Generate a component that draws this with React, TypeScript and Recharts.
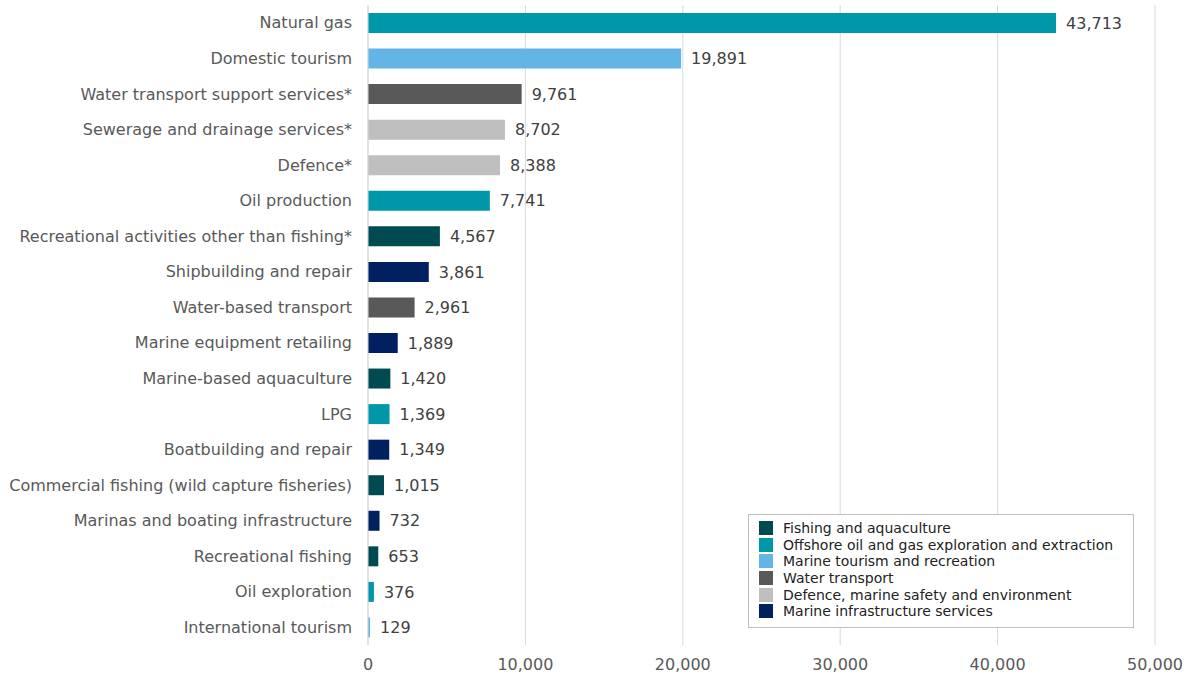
import React from 'react';
import { BarChart, Bar, XAxis, YAxis, CartesianGrid, Cell, LabelList } from 'recharts';

const categories = [
  'Natural gas', 'Domestic tourism', 'Water transport support services*', 'Sewerage and drainage services*',
  'Defence*', 'Oil production', 'Recreational activities other than fishing*', 'Shipbuilding and repair',
  'Water-based transport', 'Marine equipment retailing', 'Marine-based aquaculture', 'LPG',
  'Boatbuilding and repair', 'Commercial fishing (wild capture fisheries)', 'Marinas and boating infrastructure',
  'Recreational fishing', 'Oil exploration', 'International tourism',
];
const values = [43713, 19891, 9761, 8702, 8388, 7741, 4567, 3861, 2961, 1889, 1420, 1369, 1349, 1015, 732, 653, 376, 129];
const groups = [1, 2, 3, 4, 4, 1, 0, 5, 3, 5, 0, 1, 5, 0, 5, 0, 1, 2];

const groupNames = [
  'Fishing and aquaculture',
  'Offshore oil and gas exploration and extraction',
  'Marine tourism and recreation',
  'Water transport',
  'Defence, marine safety and environment',
  'Marine infrastructure services',
];
const groupColors = ['#004A52', '#0097AA', '#62B5E5', '#595959', '#BFBFBF', '#00205F'];
const xTicks = [0, 10000, 20000, 30000, 40000, 50000];

const data = categories.map((name, i) => ({ name, value: values[i], group: groups[i] }));
const font = '"DejaVu Sans", Verdana, sans-serif';
const fmt = (v: number) => v.toLocaleString('en-US');

// legend sits over the plot, bottom right, like the original
function LegendBox() {
  return (
    <div style={{ position: 'absolute', left: 748, top: 514, width: 364, height: 98, border: '1px solid #BFBFBF',
      background: '#fff', padding: '5px 10px 9px 10px', fontFamily: font, fontSize: 14, color: '#222' }}>
      {groupNames.map((g, i) => (
        <div key={g} style={{ display: 'flex', alignItems: 'center', height: 16.6, whiteSpace: 'nowrap' }}>
          <div style={{ width: 14, height: 14, background: groupColors[i], marginRight: 10, flexShrink: 0 }} />
          <span>{g}</span>
        </div>
      ))}
    </div>
  );
}

export default function App() {
  return (
    <div style={{ position: 'absolute', left: 0, top: 0, width: 1192, height: 675, background: '#fff' }}>
      <BarChart width={1192} height={675} data={data} layout="vertical"
        margin={{ top: 5, right: 37, bottom: 0, left: 0 }}>
        <CartesianGrid horizontal={false} stroke="#D9D9D9" />
        <XAxis type="number" domain={[0, 50000]} ticks={xTicks} tickFormatter={fmt}
          axisLine={false} tickLine={false} tickSize={0} tickMargin={14} height={30}
          tick={{ fill: '#595959', fontSize: 16, fontFamily: font }} />
        <YAxis type="category" dataKey="name" width={368} interval={0}
          axisLine={{ stroke: '#D9D9D9' }} tickLine={false} tickSize={0} tickMargin={16}
          tick={{ fill: '#595959', fontSize: 16, fontFamily: font }} />
        <Bar dataKey="value" barSize={20} isAnimationActive={false}>
          {data.map((d, i) => <Cell key={i} fill={groupColors[d.group]} />)}
          <LabelList dataKey="value" position="right" offset={10} formatter={(v: any) => fmt(Number(v))}
            style={{ fill: '#404040', fontSize: 16, fontFamily: font }} />
        </Bar>
      </BarChart>
      <LegendBox />
    </div>
  );
}
